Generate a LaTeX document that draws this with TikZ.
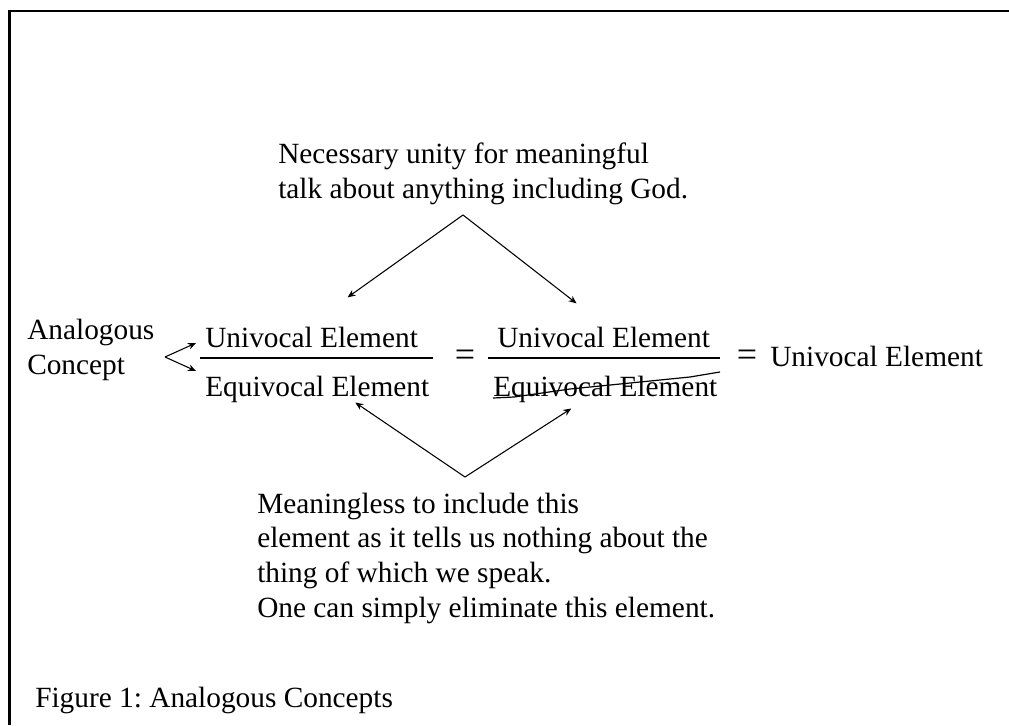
\documentclass[tikz,border=0pt]{standalone}
\usepackage{fontspec}
\setmainfont{Liberation Serif}
\usetikzlibrary{arrows.meta,positioning,calc}
\frenchspacing

\begin{document}
\begin{tikzpicture}[x=0.75pt,y=-0.75pt,font=\fontsize{22}{26}\selectfont,
    txt/.style={inner sep=0pt, anchor=base west, align=left},
    eqsign/.style={inner sep=0pt, font=\fontsize{27}{30}\selectfont},
    pointer/.style={-{Stealth[length=6pt,width=5pt]}, line width=0.8pt},
    fracbar/.style={line width=1.5pt}]
    \useasboundingbox (0,0) rectangle (1009,725);
    % Frame (top and left only)
    \draw[line width=1.9pt] (9.5,725) -- (9.5,11) -- (1009,11);

    % Fractions
    \node[txt] (num1) at (205,347) {Univocal Element};
    \node[txt] (den1) at (205,396) {Equivocal Element};
    \node[eqsign] (eqA) at (465,358) {=};
    \node[txt] (num2) at (497,347) {Univocal Element};
    \node[txt] (den2) at (493,396) {Equivocal Element};
    \node[eqsign] (eqB) at (747,358) {=};
    \node[txt] (result) at (770,366) {Univocal Element};
    \draw[fracbar] (200,358) -- (433,358);
    \draw[fracbar] (488,358) -- (720,358);

    % Strike-out
    \draw[line width=0.9pt] (493,398) -- (514,397) -- (570,389) -- (690,377) -- (720,372);

    % Analogous concept (base = last line)
    \node[txt] (concept) at (27,374) {Analogous\\Concept};
    \coordinate (split) at (165,357);
    \draw[pointer] (split) -- ([shift={(-9,-4)}]num1.base west);
    \draw[pointer] (split) -- ([shift={(-9,-25)}]den1.base west);

    % Notes
    \node[txt] (unity) at (278,198) {Necessary unity for meaningful\\talk about anything including God.};
    \coordinate (upper) at (463,215);
    \draw[pointer] (upper) -- ([shift={(36,-29)}]num1.north);
    \draw[pointer] (upper) -- ([shift={(-27,-23)}]num2.north);

    \node[txt] (useless) at (257,617) {Meaningless to include this\\element as it tells us nothing about the\\thing of which we speak.\\One can simply eliminate this element.};
    \coordinate (lower) at (465,477);
    \draw[pointer] (lower) -- ([shift={(38,0)}]den1.south);
    \draw[pointer] (lower) -- ([shift={(-34,6)}]den2.south);

    \node[txt] (caption) at (35,707) {Figure 1: Analogous Concepts};
\end{tikzpicture}
\end{document}
